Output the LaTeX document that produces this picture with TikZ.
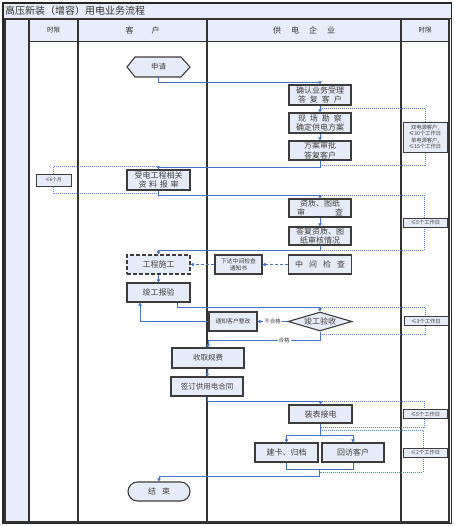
\documentclass[tikz,border=0pt]{standalone}
\usepackage{fontspec}
\setmainfont{Noto Sans CJK SC}
\usetikzlibrary{calc,shapes.geometric,arrows.meta}
\definecolor{boxfill}{RGB}{230,236,247}
\definecolor{hdrfill}{RGB}{231,237,248}
\definecolor{edgec}{RGB}{60,60,60}
\definecolor{flowc}{RGB}{68,114,196}
\definecolor{dotc}{RGB}{85,135,210}
\newcommand{\spr}[2]{\makebox[#1][s]{#2}}
\begin{document}
\begin{tikzpicture}[x=1pt,y=-1pt,
  colline/.style={draw=black!80,line width=1.3pt},
  box/.style={draw=edgec,fill=boxfill,line width=1.1pt,inner sep=0pt,align=center,
    font=\fontsize{8}{9.6}\selectfont,text=black!75,minimum width=62pt,minimum height=19pt},
  smallbox/.style={box,font=\fontsize{5.8}{7}\selectfont},
  tbox/.style={draw=edgec,fill=boxfill,line width=0.9pt,inner sep=0pt,align=center,
    font=\fontsize{5.3}{6.6}\selectfont,text=black!75,minimum width=44pt,minimum height=9pt},
  flow/.style={draw=flowc,line width=0.9pt,-{Triangle[length=3pt,width=3.5pt]}},
  flowline/.style={draw=flowc,line width=0.9pt},
  dflow/.style={flow,dash pattern=on 3pt off 2pt},
  dotb/.style={draw=dotc,line width=0.8pt,dash pattern=on 0.9pt off 1.1pt},
  lab/.style={fill=white,inner sep=1pt,font=\fontsize{5.5}{6}\selectfont,text=black!75},
  hdr/.style={inner sep=0pt,text=black!80}]
\useasboundingbox (0,0) rectangle (454,526);
% frame and columns
\fill[hdrfill] (5,19) rectangle (449,42);
\fill[hdrfill] (5,19) rectangle (29,522);
\draw[fill=hdrfill,draw=black!85,line width=1pt] (3,3) rectangle (451.5,19);
\draw[black!85,line width=1.1pt] (3,3) rectangle (451.5,523.5);
\draw[colline] (5,19) rectangle (449,522);
\draw[colline,line width=1pt] (29,42) -- (449,42);
\foreach \x in {29,78,207,401} \draw[colline] (\x,19) -- (\x,522);
\node[hdr,anchor=west,font=\fontsize{10}{12}\selectfont] (title) at (5,11) {高压新装（增容）用电业务流程};
\node[hdr,font=\fontsize{6.5}{7}\selectfont] (h1) at (53.5,30.5) {时限};
\node[hdr,font=\fontsize{8}{9}\selectfont] (h2) at (142.5,30.5) {客\hspace{18pt}户};
\node[hdr,font=\fontsize{8}{9}\selectfont] (h3) at (304,30.5) {\spr{62pt}{供\hfil 电\hfil 企\hfil 业}};
\node[hdr,font=\fontsize{6.5}{7}\selectfont] (h4) at (425,30.5) {时限};

% brackets (dotted)
\draw[dotb] (320,108) -- (425,108) -- (425,165) -- (320,165);
\draw[dotb] (158.5,166) -- (53.5,166) -- (53.5,193) -- (158.5,193);
\draw[dotb] (320,195) -- (424,195) -- (424,250) -- (320,250);
\draw[dotb] (320,307) -- (425,307) -- (425,334) -- (320,334);
\draw[dotb] (320,401) -- (424,401) -- (424,427) -- (320,427);
\draw[dotb] (320,430) -- (423,430) -- (423,472) -- (319.5,472);

% start hexagon
\draw[draw=edgec,fill=boxfill,line width=1.1pt] (127,67) -- (135,57) -- (181,57) -- (190,67) -- (181,77) -- (135,77) -- cycle;
\node[inner sep=0pt,minimum width=63pt,minimum height=20pt,font=\fontsize{7.5}{9}\selectfont,text=black!75] (sq) at (158.5,67) {申请};

% nodes
\node[box,minimum height=20pt] (qr) at (320,95) {确认业务受理\\\spr{44pt}{答\hfil 复\hfil 客\hfil 户}};
\node[box,minimum height=20pt] (xc) at (320,123) {\spr{44pt}{现\hfil 场\hfil 勘\hfil 察}\\确定供电方案};
\node[box] (fa) at (320,150.5) {方案审批\\答复客户};
\node[box,minimum height=20pt,minimum width=63pt] (sd) at (158.5,180) {受电工程相关\\\spr{40pt}{资\hfil 料\hfil 报\hfil 审}};
\node[box,minimum height=18pt] (zz) at (320,208) {资质、图纸\\\spr{46pt}{审\hfil 查}};
\node[box,minimum height=18pt] (df) at (320,236) {答复资质、图\\纸审核情况};
\node[box,minimum width=63pt,dash pattern=on 4pt off 2pt] (gc) at (158.5,264.5) {工程施工};
\node[smallbox,minimum width=47pt] (xd) at (238.5,264.5) {下达中间检查\\通知书};
\node[box,minimum width=63pt] (zj) at (320,264.5) {\spr{50pt}{中\hfil 间\hfil 检\hfil 查}};
\node[box,minimum width=63pt] (jb) at (158.5,292.5) {竣工报验};
\node[diamond,draw=edgec,fill=boxfill,line width=1.1pt,inner sep=0pt,aspect=3.4,
  minimum width=64pt,minimum height=19pt,font=\fontsize{8}{9}\selectfont,text=black!75] (ys) at (320,321.5) {\makebox[0pt]{竣工验收}};
\node[smallbox,minimum width=48pt] (tz) at (233,321.5) {通知客户整改};
\node[box,minimum width=72pt,minimum height=20pt,font=\fontsize{7.5}{9}\selectfont] (sf) at (208,358) {收取规费};
\node[box,minimum width=72pt,font=\fontsize{7.5}{9}\selectfont] (qd) at (207,386.5) {签订供用电合同};
\node[box,minimum width=63pt,minimum height=18pt] (zb) at (320.5,414) {装表接电};
\node[box,minimum width=63pt] (jk) at (286.5,452.5) {建卡、归档};
\node[box,minimum width=62pt] (hf) at (353,452.5) {回访客户};
\node[box,minimum width=62pt,rounded corners=9.5pt] (js) at (159,491.5) {结\hspace{6pt}束};

% time boxes
\node[tbox,minimum height=30pt] (t1) at (425,137) {双电源客户,\\≤30个工作日\\单电源客户,\\≤15个工作日};
\node[tbox,minimum width=35pt,minimum height=12pt,font=\fontsize{4.6}{5}\selectfont] (t0) at (53.5,180) {≤6个月};
\node[tbox] (t2) at (425.5,222.5) {≤5个工作日};
\node[tbox] (t3) at (426,321) {≤3个工作日};
\node[tbox] (t4) at (425.5,414) {≤5个工作日};
\node[tbox] (t5) at (425.5,452.5) {≤2个工作日};

% connectors
\draw[flow] (sq.south) -- ++(0,5) -| (qr.north);
\draw[flow] (qr.south) -- (xc.north);
\draw[flow] (xc.south) -- (fa.north);
\draw[flow] (fa.south) -- ++(0,6.5) -| (sd.north);
\draw[flow] (sd.south) -- ++(0,5) -| (zz.north);
\draw[flow] (zz.south) -- (df.north);
\draw[flow] (df.south) -- ++(0,5) -| (gc.north);
\draw[dflow] (zj.west) -- (xd.east);
\draw[dflow] (xd.west) -- (gc.east);
\draw[flow] (gc.south) -- (jb.north);
\draw[flow] ($(jb.south)+(18.5,0)$) -- ++(0,5) -| (ys.north);
\draw[flow] (ys.west) -- node[lab]{不合格} (tz.east);
\draw[flow] (tz.west) -| ($(jb.south)+(-18.5,0)$);
\draw[flow] (ys.south) -- ++(0,8.5) -| node[lab,pos=0.16]{合格} (sf.north);
\draw[flow] (sf.south) -- (qd.north);
\draw[flow] (qd.south) -- ++(0,5) -| (zb.north);
\draw[flowline] (zb.south) -- ++(0,12) coordinate (br);
\draw[flow] (br) -| (jk.north);
\draw[flow] (br) -| (hf.north);
\draw[flowline] (jk.south) -- ++(0,7) -| (hf.south);
\coordinate (mj) at ($(jk.south)!0.5!(hf.south)+(0,7)$);
\draw[flow] (mj) -- ++(0,7) -| (js.north);
\end{tikzpicture}
\end{document}
